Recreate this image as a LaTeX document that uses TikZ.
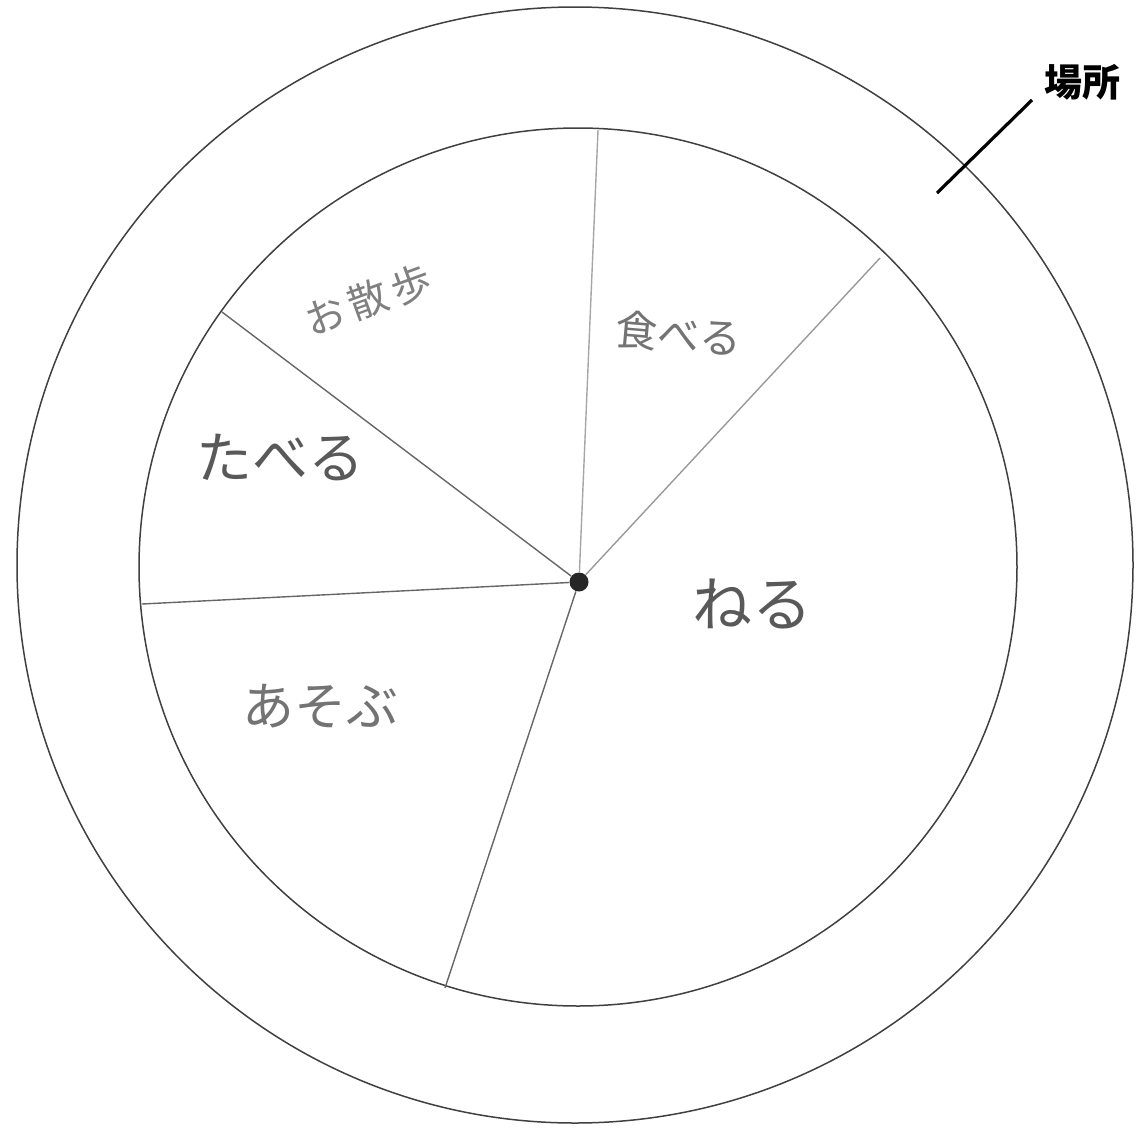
\documentclass[tikz,border=0pt]{standalone}
\usepackage{fontspec}
\newfontfamily\jpfont{Noto Sans CJK JP}
\usetikzlibrary{calc, positioning}

\begin{document}
\begin{tikzpicture}[x=0.5pt, y=-0.5pt,
    ring/.style={draw=black!75, line width=0.75pt},
    spoke/.style={draw=black!60, line width=0.7pt},
    word/.style={inner sep=0pt, text=black!65},
    wsize/.style={font=\jpfont\fontsize{#1}{#1}\selectfont}]
  \useasboundingbox (0,0) rectangle (1136,1130);
  \coordinate (oc) at (575,565);
  \coordinate (ic) at (578,567);
  \draw[ring] (oc) circle[radius=279pt];
  \draw[ring] (ic) circle[radius=219.5pt];

  \node[circle, fill=black!85, inner sep=0pt, minimum size=9.5pt] (hub) at (579,582) {};
  \coordinate (top) at (598,130);
  \coordinate (ne) at (880,258);
  \coordinate (nw) at (222,312);
  \coordinate (w) at (142,604);
  \coordinate (s) at (445,988);
  \draw[spoke, draw=black!35] (hub) -- (top);
  \draw[spoke, draw=black!40] (hub) -- (ne);
  \draw[spoke] (hub) -- (nw);
  \draw[spoke] (hub) -- (w);
  \draw[spoke] (hub) -- (s);

  \node[word, wsize=20, text=black!50, rotate=20] (walk) at (368,300) {お\hspace{3pt}散\hspace{3pt}歩};
  \node[word, wsize=21, text=black!55, rotate=-5] (eat) at (679,334) {食べる};
  \node[word, wsize=28] (eat2) at (280,457) {たべる};
  \node[word, wsize=26, text=black!55] (play) at (320,706) {あそぶ};
  \node[word, wsize=30] (sleep) at (752,604) {ねる};

  \node[inner sep=0pt, font=\jpfont\bfseries\fontsize{19}{19}\selectfont] (place) at (1082,82) {場所};
  \coordinate (lead) at (1032,100);
  \coordinate (tip) at (937,193);
  \draw[line width=1.6pt] (lead) -- (tip);
\end{tikzpicture}
\end{document}
